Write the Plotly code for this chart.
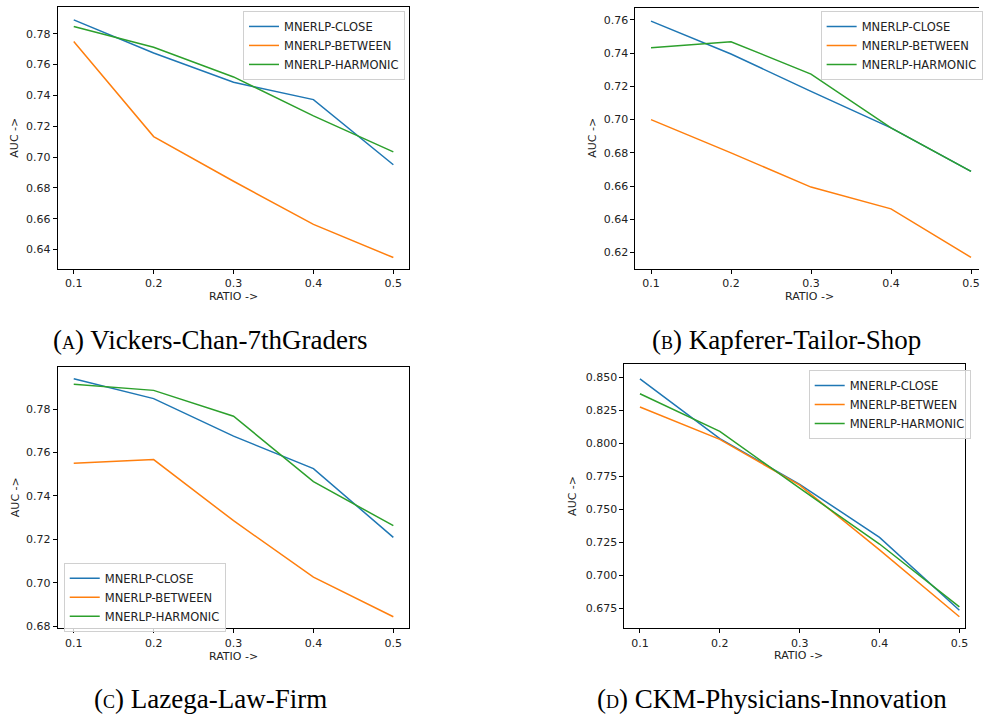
import plotly.graph_objects as go

ratios = [0.1, 0.2, 0.3, 0.4, 0.5]
series_names = ["MNERLP-CLOSE", "MNERLP-BETWEEN", "MNERLP-HARMONIC"]
colors = ["#1f77b4", "#ff7f0e", "#2ca02c"]

# (A) Vickers-Chan-7thGraders
a_close = [0.789, 0.7675, 0.7485, 0.7373, 0.695]
a_between = [0.775, 0.7133, 0.6843, 0.6563, 0.6348]
a_harmonic = [0.7847, 0.7712, 0.752, 0.7267, 0.7034]

# (B) Kapferer-Tailor-Shop
b_close = [0.7593, 0.7395, 0.717, 0.6950, 0.6688]
b_between = [0.700, 0.680, 0.6594, 0.6463, 0.6171]
b_harmonic = [0.7432, 0.7469, 0.7274, 0.6950, 0.6688]

# (C) Lazega-Law-Firm
c_close = [0.7941, 0.7849, 0.7676, 0.7526, 0.7209]
c_between = [0.7551, 0.7568, 0.7286, 0.7026, 0.6843]
c_harmonic = [0.7915, 0.7887, 0.7768, 0.7466, 0.7263]

# (D) CKM-Physicians-Innovation
d_close = [0.8487, 0.8035, 0.7690, 0.7288, 0.6737]
d_between = [0.8274, 0.8030, 0.7683, 0.7194, 0.6688]
d_harmonic = [0.8375, 0.8090, 0.7660, 0.7238, 0.6763]

captions = [
    "(<span style='font-size:18px'>A</span>) Vickers-Chan-7thGraders",
    "(<span style='font-size:18px'>B</span>) Kapferer-Tailor-Shop",
    "(<span style='font-size:18px'>C</span>) Lazega-Law-Firm",
    "(<span style='font-size:18px'>D</span>) CKM-Physicians-Innovation",
]

W, H = 983, 720
panels = [
    dict(data=[a_close, a_between, a_harmonic], px=(58, 411), py=(7, 270),
         xr=[0.08, 0.52], yr=[0.6277, 0.7974], yt=[0.64, 0.66, 0.68, 0.70, 0.72, 0.74, 0.76, 0.78], fmt=".2f",
         leg=(244, 11), auc=(15, 138.5), ratio=(234, 298), cap=(211, 342), mirror_y=True),
    dict(data=[b_close, b_between, b_harmonic], px=(638, 983), py=(8, 270),
         xr=[0.0805, 0.51], yr=[0.6104, 0.7672], yt=[0.62, 0.64, 0.66, 0.68, 0.70, 0.72, 0.74, 0.76], fmt=".2f",
         leg=(824, 11), auc=(595, 139), ratio=(813, 298), cap=(790, 342), mirror_y=False),
    dict(data=[c_close, c_between, c_harmonic], px=(58, 411), py=(369, 632),
         xr=[0.08, 0.52], yr=[0.6789, 0.7995], yt=[0.68, 0.70, 0.72, 0.74, 0.76, 0.78], fmt=".2f",
         leg=(64, 566), auc=(15, 500), ratio=(234, 660), cap=(211, 703), mirror_y=True),
    dict(data=[d_close, d_between, d_harmonic], px=(627, 969), py=(366, 632),
         xr=[0.0806, 0.5071], yr=[0.6599, 0.8600], yt=[0.675, 0.700, 0.725, 0.750, 0.775, 0.800, 0.825, 0.850], fmt=".3f",
         leg=(812, 372), auc=(575, 499), ratio=(802, 659), cap=(775, 703), mirror_y=True),
]

fig = go.Figure()
layout = dict(
    width=W, height=H, margin=dict(l=0, r=0, t=0, b=0),
    paper_bgcolor="white", plot_bgcolor="white",
    font=dict(family="DejaVu Sans", size=10, color="#222222"),
    annotations=[],
)

for i, p in enumerate(panels):
    n = "" if i == 0 else str(i + 1)
    legname = "legend" + n
    for j, vals in enumerate(p["data"]):
        fig.add_trace(go.Scatter(
            x=ratios, y=vals, mode="lines", name=series_names[j],
            line=dict(color=colors[j], width=1.5),
            xaxis="x" + n, yaxis="y" + n, legend=legname, showlegend=True,
        ))
    layout["xaxis" + n] = dict(
        domain=[p["px"][0] / W, p["px"][1] / W], range=p["xr"], anchor="y" + n,
        tickvals=ratios, ticktext=[f"{r:.1f}" for r in ratios],
        showline=True, linecolor="black", linewidth=1, mirror=True,
        ticks="outside", ticklen=4, tickcolor="black", showgrid=False, zeroline=False,
        tickfont=dict(size=11, family="DejaVu Sans", color="#222222"),
    )
    layout["yaxis" + n] = dict(
        domain=[1 - p["py"][1] / H, 1 - p["py"][0] / H], range=p["yr"], anchor="x" + n,
        tickvals=p["yt"], tickformat=p["fmt"],
        showline=True, linecolor="black", linewidth=1, mirror=p["mirror_y"],
        ticks="outside", ticklen=4, tickcolor="black", showgrid=False, zeroline=False,
        tickfont=dict(size=11, family="DejaVu Sans", color="#222222"),
    )
    layout[legname] = dict(
        x=p["leg"][0] / W, y=1 - p["leg"][1] / H, xanchor="left", yanchor="top",
        bgcolor="rgba(255,255,255,0.8)", bordercolor="#d0d0d0", borderwidth=1,
        font=dict(size=11.5, family="DejaVu Sans", color="#222222"),
        tracegroupgap=0, itemwidth=30,
    )
    layout["annotations"].append(dict(
        text="AUC ->", x=p["auc"][0] / W, y=1 - p["auc"][1] / H, xref="paper", yref="paper",
        textangle=-90, showarrow=False, xanchor="center", yanchor="middle",
        font=dict(size=11, family="DejaVu Sans", color="#222222")))
    layout["annotations"].append(dict(
        text="RATIO ->", x=p["ratio"][0] / W, y=1 - p["ratio"][1] / H, xref="paper", yref="paper",
        showarrow=False, xanchor="center", yanchor="middle",
        font=dict(size=11, family="DejaVu Sans", color="#222222")))
    layout["annotations"].append(dict(
        text=captions[i], x=p["cap"][0] / W, y=1 - p["cap"][1] / H, xref="paper", yref="paper",
        showarrow=False, xanchor="center", yanchor="middle",
        font=dict(size=27, family="Liberation Serif", color="black")))

fig.update_layout(**layout)
fig.write_html("out.html")
